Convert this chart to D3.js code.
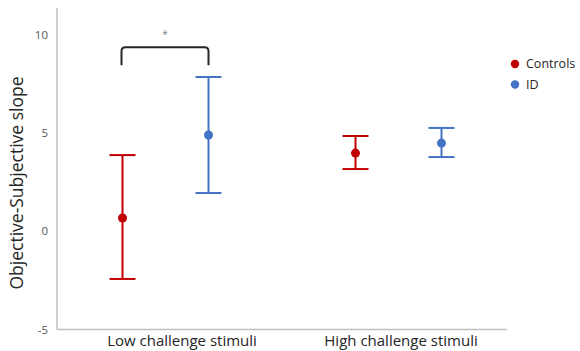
<!DOCTYPE html>
<html>
<head>
<meta charset="utf-8">
<script src="https://cdn.jsdelivr.net/npm/d3@7"></script>
<style>
  body { margin: 0; background: #fff; }
  svg { display: block; }
</style>
</head>
<body>
<svg id="chart"></svg>
<script>
// groups on the x axis and the two series
var groups = ["Low challenge stimuli", "High challenge stimuli"];
var series = ["Controls", "ID"];
var colors = ["#C00000", "#4472C4"];

// mean and error bar ends, one array per series, in group order
var controlsMean = [0.67, 3.97];
var controlsLow = [-2.43, 3.16];
var controlsHigh = [3.87, 4.84];
var idMean = [4.89, 4.48];
var idLow = [1.94, 3.77];
var idHigh = [7.84, 5.25];

var yTicks = [-5, 0, 5, 10];
var yTitle = "Objective-Subjective slope";

// significance bracket: Controls vs ID in the low challenge group
var sigGroup = "Low challenge stimuli";
var sigLevel = 9.35;
var sigLabel = "*";

var width = 580, height = 351;
var svg = d3.select("#chart").attr("width", width).attr("height", height);

var y = d3.scaleLinear().domain([-5, 11.35]).range([329.5, 8]);
var x = d3.scaleBand().domain(groups).range([49, 515]);
var xInner = d3.scalePoint().domain(series).range([-43, 43]);
// category labels sit a little off the point pairs in the original
var xLabel = d3.scalePoint().domain(groups).range([182, 401]);

var axisColor = "#BFBFBF";
var textColor = "#595959";

// axes lines
svg.append("line")
  .attr("x1", 57).attr("x2", 57)
  .attr("y1", y.range()[1]).attr("y2", y.range()[0])
  .style("stroke", axisColor).style("stroke-width", 1.5);
svg.append("line")
  .attr("x1", 57).attr("x2", 507)
  .attr("y1", y.range()[0]).attr("y2", y.range()[0])
  .style("stroke", axisColor).style("stroke-width", 1.5);

// y tick labels
svg.selectAll(".ytick")
  .data(yTicks)
  .enter()
  .append("text")
  .attr("class", "ytick")
  .attr("x", 48)
  .attr("y", function(d) { return y(d); })
  .attr("dy", "0.35em")
  .attr("text-anchor", "end")
  .style("font-family", "Open Sans, sans-serif")
  .style("font-size", "11.5px")
  .style("fill", textColor)
  .text(function(d) { return d; });

// category labels
svg.selectAll(".xlabel")
  .data(groups)
  .enter()
  .append("text")
  .attr("class", "xlabel")
  .attr("x", function(d) { return xLabel(d); })
  .attr("y", 346)
  .attr("text-anchor", "middle")
  .style("font-family", "Open Sans, sans-serif")
  .style("font-size", "15px")
  .style("fill", "#262626")
  .text(function(d) { return d; });

// y title
svg.append("text")
  .attr("transform", "translate(23,183) rotate(-90)")
  .attr("text-anchor", "middle")
  .style("font-family", "Open Sans, sans-serif")
  .style("font-size", "17.5px")
  .style("fill", "#262626")
  .text(yTitle);

// build rows from the arrays
var rows = [];
groups.forEach(function(g, i) {
  rows.push({ group: g, s: "Controls", mean: controlsMean[i], lo: controlsLow[i], hi: controlsHigh[i] });
  rows.push({ group: g, s: "ID", mean: idMean[i], lo: idLow[i], hi: idHigh[i] });
});
function px(d) { return x(d.group) + x.bandwidth() / 2 + xInner(d.s); }
function col(d) { return colors[series.indexOf(d.s)]; }

var marks = svg.selectAll(".mark").data(rows).enter().append("g").attr("class", "mark");
marks.append("line")
  .attr("x1", px).attr("x2", px)
  .attr("y1", function(d) { return y(d.lo); })
  .attr("y2", function(d) { return y(d.hi); })
  .style("stroke", col).style("stroke-width", 2);
["lo", "hi"].forEach(function(k) {
  marks.append("line")
    .attr("x1", function(d) { return px(d) - 13; })
    .attr("x2", function(d) { return px(d) + 13; })
    .attr("y1", function(d) { return y(d[k]); })
    .attr("y2", function(d) { return y(d[k]); })
    .style("stroke", col).style("stroke-width", 2);
});
marks.append("circle")
  .attr("cx", px)
  .attr("cy", function(d) { return y(d.mean); })
  .attr("r", 4.5)
  .style("fill", col);

// significance bracket
var bx1 = x(sigGroup) + x.bandwidth() / 2 + xInner("Controls") - 1;
var bx2 = x(sigGroup) + x.bandwidth() / 2 + xInner("ID");
var by = y(sigLevel), leg = 18, rr = 4;
svg.append("path")
  .attr("d", "M" + bx1 + "," + (by + leg) +
    " L" + bx1 + "," + (by + rr) +
    " Q" + bx1 + "," + by + " " + (bx1 + rr) + "," + by +
    " L" + (bx2 - rr) + "," + by +
    " Q" + bx2 + "," + by + " " + bx2 + "," + (by + rr) +
    " L" + bx2 + "," + (by + leg))
  .style("fill", "none").style("stroke", "#262626").style("stroke-width", 2);
svg.append("text")
  .attr("x", (bx1 + bx2) / 2)
  .attr("y", by - 9)
  .attr("text-anchor", "middle")
  .style("font-family", "Open Sans, sans-serif")
  .style("font-size", "10px")
  .style("fill", "#808080")
  .text(sigLabel);

// legend
var legend = svg.selectAll(".legend").data(series).enter().append("g")
  .attr("class", "legend")
  .attr("transform", function(d, i) { return "translate(515," + (64 + i * 20.5) + ")"; });
legend.append("circle").attr("r", 4.2).style("fill", function(d, i) { return colors[i]; });
legend.append("text")
  .attr("x", 11).attr("dy", "0.35em")
  .style("font-family", "Open Sans, sans-serif")
  .style("font-size", "12.5px")
  .style("fill", "#262626")
  .text(function(d) { return d; });
</script>
</body>
</html>
